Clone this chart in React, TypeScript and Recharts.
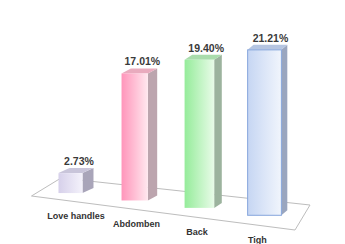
import React from 'react';
import { BarChart, Bar, XAxis, YAxis, ReferenceArea } from 'recharts';

const categories = ['Love handles', 'Abdomben', 'Back', 'Tigh'];
const shares = [2.73, 17.01, 19.4, 21.21];

const data = categories.map((name, i) => ({ name, value: shares[i] }));

// front gradient (left -> right), side face, top face, outline
const PALETTE = [
  { from: '#d6d0ea', to: '#f4f2fb', side: '#a9a5b9', top: '#c9c5da', edge: 'none' },
  { from: '#ff95ba', to: '#ffe8ef', side: '#bca5ae', top: '#e9abbe', edge: 'none' },
  { from: '#95ec9a', to: '#e8fbe8', side: '#9cb39e', top: '#a9dcac', edge: 'none' },
  { from: '#c6d6f3', to: '#f1f5fc', side: '#9aa6bf', top: '#b5c5e1', edge: '#86a6dc' },
];

const W = 345;
const H = 244;
const MARGIN = { top: 10.5, right: 47.5, bottom: 21, left: 37.5 };
const BAR = 24;
const FIRST_X = MARGIN.left + (65 - BAR) / 2;
const FLOOR_SLOPE = 0.114;
const FONT = '"Liberation Sans", Arial, sans-serif';

const Box3D = (props: any) => {
  const { x, y, width, height, index, value } = props;
  const c = PALETTE[index % PALETTE.length];
  const rel = x - FIRST_X;
  const drop = FLOOR_SLOPE * rel;
  const h = height * (1 + 0.00035 * rel);
  // front face widens towards the viewer on the right
  const w = width * (1 + 0.0012 * rel + 0.0000045 * rel * rel);
  const left = x - 0.03 * rel;
  const bottom = y + height + drop;
  const top = bottom - h;
  const dx = 11 - 0.026 * rel;
  const dy = 5;
  const gid = `front-${index}`;
  const v = Array.isArray(value) ? value[1] - value[0] : value;
  return (
    <g>
      <defs>
        <linearGradient id={gid} x1="0" y1="0" x2="1" y2="0">
          <stop offset="0%" stopColor={c.from} />
          <stop offset="100%" stopColor={c.to} />
        </linearGradient>
      </defs>
      <polygon
        points={`${left + w},${top} ${left + w + dx},${top - dy} ${left + w + dx},${bottom - dy} ${left + w},${bottom}`}
        fill={c.side}
      />
      <polygon
        points={`${left},${top} ${left + dx},${top - dy} ${left + w + dx},${top - dy} ${left + w},${top}`}
        fill={c.top}
      />
      <rect x={left} y={top} width={w} height={h} fill={`url(#${gid})`} stroke={c.edge} strokeWidth={1} />
      <text
        x={left + (w + dx) / 2 + 3}
        y={top - dy - 3}
        textAnchor="middle"
        fontFamily={FONT}
        fontWeight="bold"
        fontSize={10.5}
        fill="#3a3a3a"
      >
        {`${Number(v).toFixed(2)}%`}
      </text>
    </g>
  );
};

const Floor = (props: any) => {
  const { x, y, width, height } = props;
  const L = x;
  const R = x + width;
  const b = y + height;
  const pts = [
    [L - 6, b + 3],
    [L + 23.5, b - 15],
    [R + 12.5, b + 12],
    [R - 2.5, b + 37],
  ];
  return (
    <polygon
      points={pts.map((p) => p.join(',')).join(' ')}
      fill="#ffffff"
      stroke="#bdbdbd"
      strokeWidth={1}
    />
  );
};

const CategoryTick = (props: any) => {
  const { x, y, payload } = props;
  const rel = x - (MARGIN.left + 32.5);
  return (
    <text
      x={x + 6 - 0.07 * rel}
      y={y + 15 + 0.125 * rel}
      textAnchor="middle"
      dominantBaseline="central"
      fontFamily={FONT}
      fontWeight="bold"
      fontSize={9}
      fill="#333333"
    >
      {payload.value}
    </text>
  );
};

export default function App() {
  return (
    <div style={{ position: 'absolute', left: 0, top: 0, width: W, height: H, background: '#fff' }}>
      <BarChart width={W} height={H} data={data} margin={MARGIN} barSize={BAR}>
        <XAxis
          dataKey="name"
          axisLine={false}
          tickLine={false}
          height={30}
          interval={0}
          tick={<CategoryTick />}
        />
        <YAxis hide domain={[0, 25]} />
        <ReferenceArea y1={0} y2={1} shape={<Floor />} ifOverflow="visible" />
        <Bar dataKey="value" shape={<Box3D />} isAnimationActive={false} />
      </BarChart>
    </div>
  );
}
